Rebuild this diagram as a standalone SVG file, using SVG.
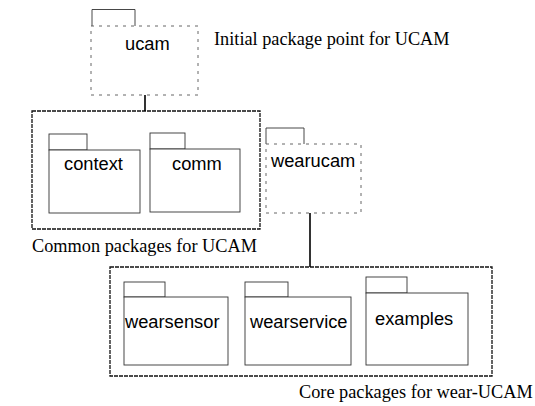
<svg xmlns="http://www.w3.org/2000/svg" width="535" height="406" viewBox="0 0 535 406">
<style>
.pkg{fill:#fff;stroke:#333;stroke-width:0.9}
.faint{fill:#fff;stroke:#555;stroke-width:0.9;stroke-dasharray:3 5}
.box{fill:none;stroke:#111;stroke-width:1.3;stroke-dasharray:4 1}
.name{font-family:"Liberation Sans",Arial,sans-serif;font-size:18.3px;fill:#000}
.note{font-family:"Liberation Serif","Times New Roman",serif;font-size:18.3px;fill:#000}
.conn{stroke:#000;stroke-width:1.6;fill:none}
</style>
<rect width="535" height="406" fill="#fff"/>
<g id="common">
<rect class="box" x="32" y="111" width="228" height="118"/>
<text class="note" x="32" y="252">Common packages for UCAM</text>
</g>
<g id="core">
<rect class="box" x="110" y="267" width="382" height="109"/>
<text class="note" x="299" y="398">Core packages for wear-UCAM</text>
</g>
<g id="connectors">
<line class="conn" x1="145" y1="95" x2="145" y2="111"/>
<line class="conn" x1="310" y1="213" x2="310" y2="267"/>
</g>
<g id="ucam">
<polyline class="pkg" fill="none" points="92,26 92,9.5 135,9.5 135,26"/>
<rect class="faint" x="91" y="26" width="107" height="69"/>
<text class="name" x="125" y="50" font-size="19">ucam</text>
<text class="note" x="214" y="45">Initial package point for UCAM</text>
</g>
<g id="context">
<rect class="pkg" x="49" y="134" width="38" height="16"/>
<rect class="pkg" x="49" y="150" width="91" height="63"/>
<text class="name" x="64" y="170">context</text>
</g>
<g id="comm">
<rect class="pkg" x="150" y="133" width="35" height="16"/>
<rect class="pkg" x="150" y="149" width="90" height="63"/>
<text class="name" x="172" y="170">comm</text>
</g>
<g id="wearucam">
<polyline class="pkg" fill="none" points="266,144 266,128 304,128 304,144"/>
<rect class="faint" x="266" y="144" width="95" height="69"/>
<text class="name" x="271" y="167">wearucam</text>
</g>
<g id="wearsensor">
<rect class="pkg" x="124" y="282" width="41" height="15"/>
<rect class="pkg" x="124" y="297" width="104" height="68"/>
<text class="name" x="125" y="328">wearsensor</text>
</g>
<g id="wearservice">
<rect class="pkg" x="245" y="282" width="43" height="15"/>
<rect class="pkg" x="245" y="297" width="106" height="68"/>
<text class="name" x="250" y="328">wearservice</text>
</g>
<g id="examples">
<rect class="pkg" x="366" y="277" width="41" height="16"/>
<rect class="pkg" x="366" y="293" width="102" height="72"/>
<text class="name" x="375" y="325">examples</text>
</g>
</svg>
